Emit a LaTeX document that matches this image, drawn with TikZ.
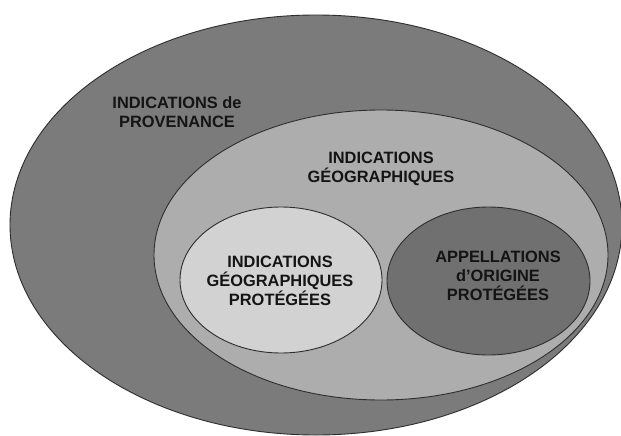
\documentclass[tikz,border=0pt]{standalone}
\usepackage{fontspec}
\setmainfont{Liberation Sans}
\usetikzlibrary{shapes.geometric}
\definecolor{outerfill}{HTML}{7B7B7B}
\definecolor{midfill}{HTML}{ADADAD}
\definecolor{igpfill}{HTML}{D2D2D2}
\definecolor{aopfill}{HTML}{707070}
\definecolor{edgecol}{HTML}{2E2E2E}
\tikzset{
  zone/.style={ellipse, draw=edgecol, line width=0.9pt, inner sep=0pt},
  label/.style={align=center, text=black!92, inner sep=0pt,
    font=\bfseries\fontsize{16.4}{19}\selectfont}
}
\begin{document}
\begin{tikzpicture}[x=1pt, y=-1pt]
\useasboundingbox (0,0) rectangle (621,436);
\fill[white] (0,0) rectangle (621,436);
\node[zone, fill=outerfill, minimum width=612pt, minimum height=420pt] (outer) at (316,225) {};
\node[zone, fill=midfill, minimum width=454pt, minimum height=290pt] (mid) at (381,255) {};
\node[zone, fill=igpfill, minimum width=202pt, minimum height=146pt] (igp) at (281,280) {};
\node[zone, fill=aopfill, minimum width=203pt, minimum height=148pt] (aop) at (488.5,281) {};
\node[label] (tprov) at (177,112) {INDICATIONS de\\PROVENANCE};
\node[label] (tig) at (381,169) {INDICATIONS\\GÉOGRAPHIQUES};
\node[label] (tigp) at (280,281) {INDICATIONS\\GÉOGRAPHIQUES\\PROTÉGÉES};
\node[label] (taop) at (498,276) {APPELLATIONS\\d’ORIGINE\\PROTÉGÉES};
\end{tikzpicture}
\end{document}
